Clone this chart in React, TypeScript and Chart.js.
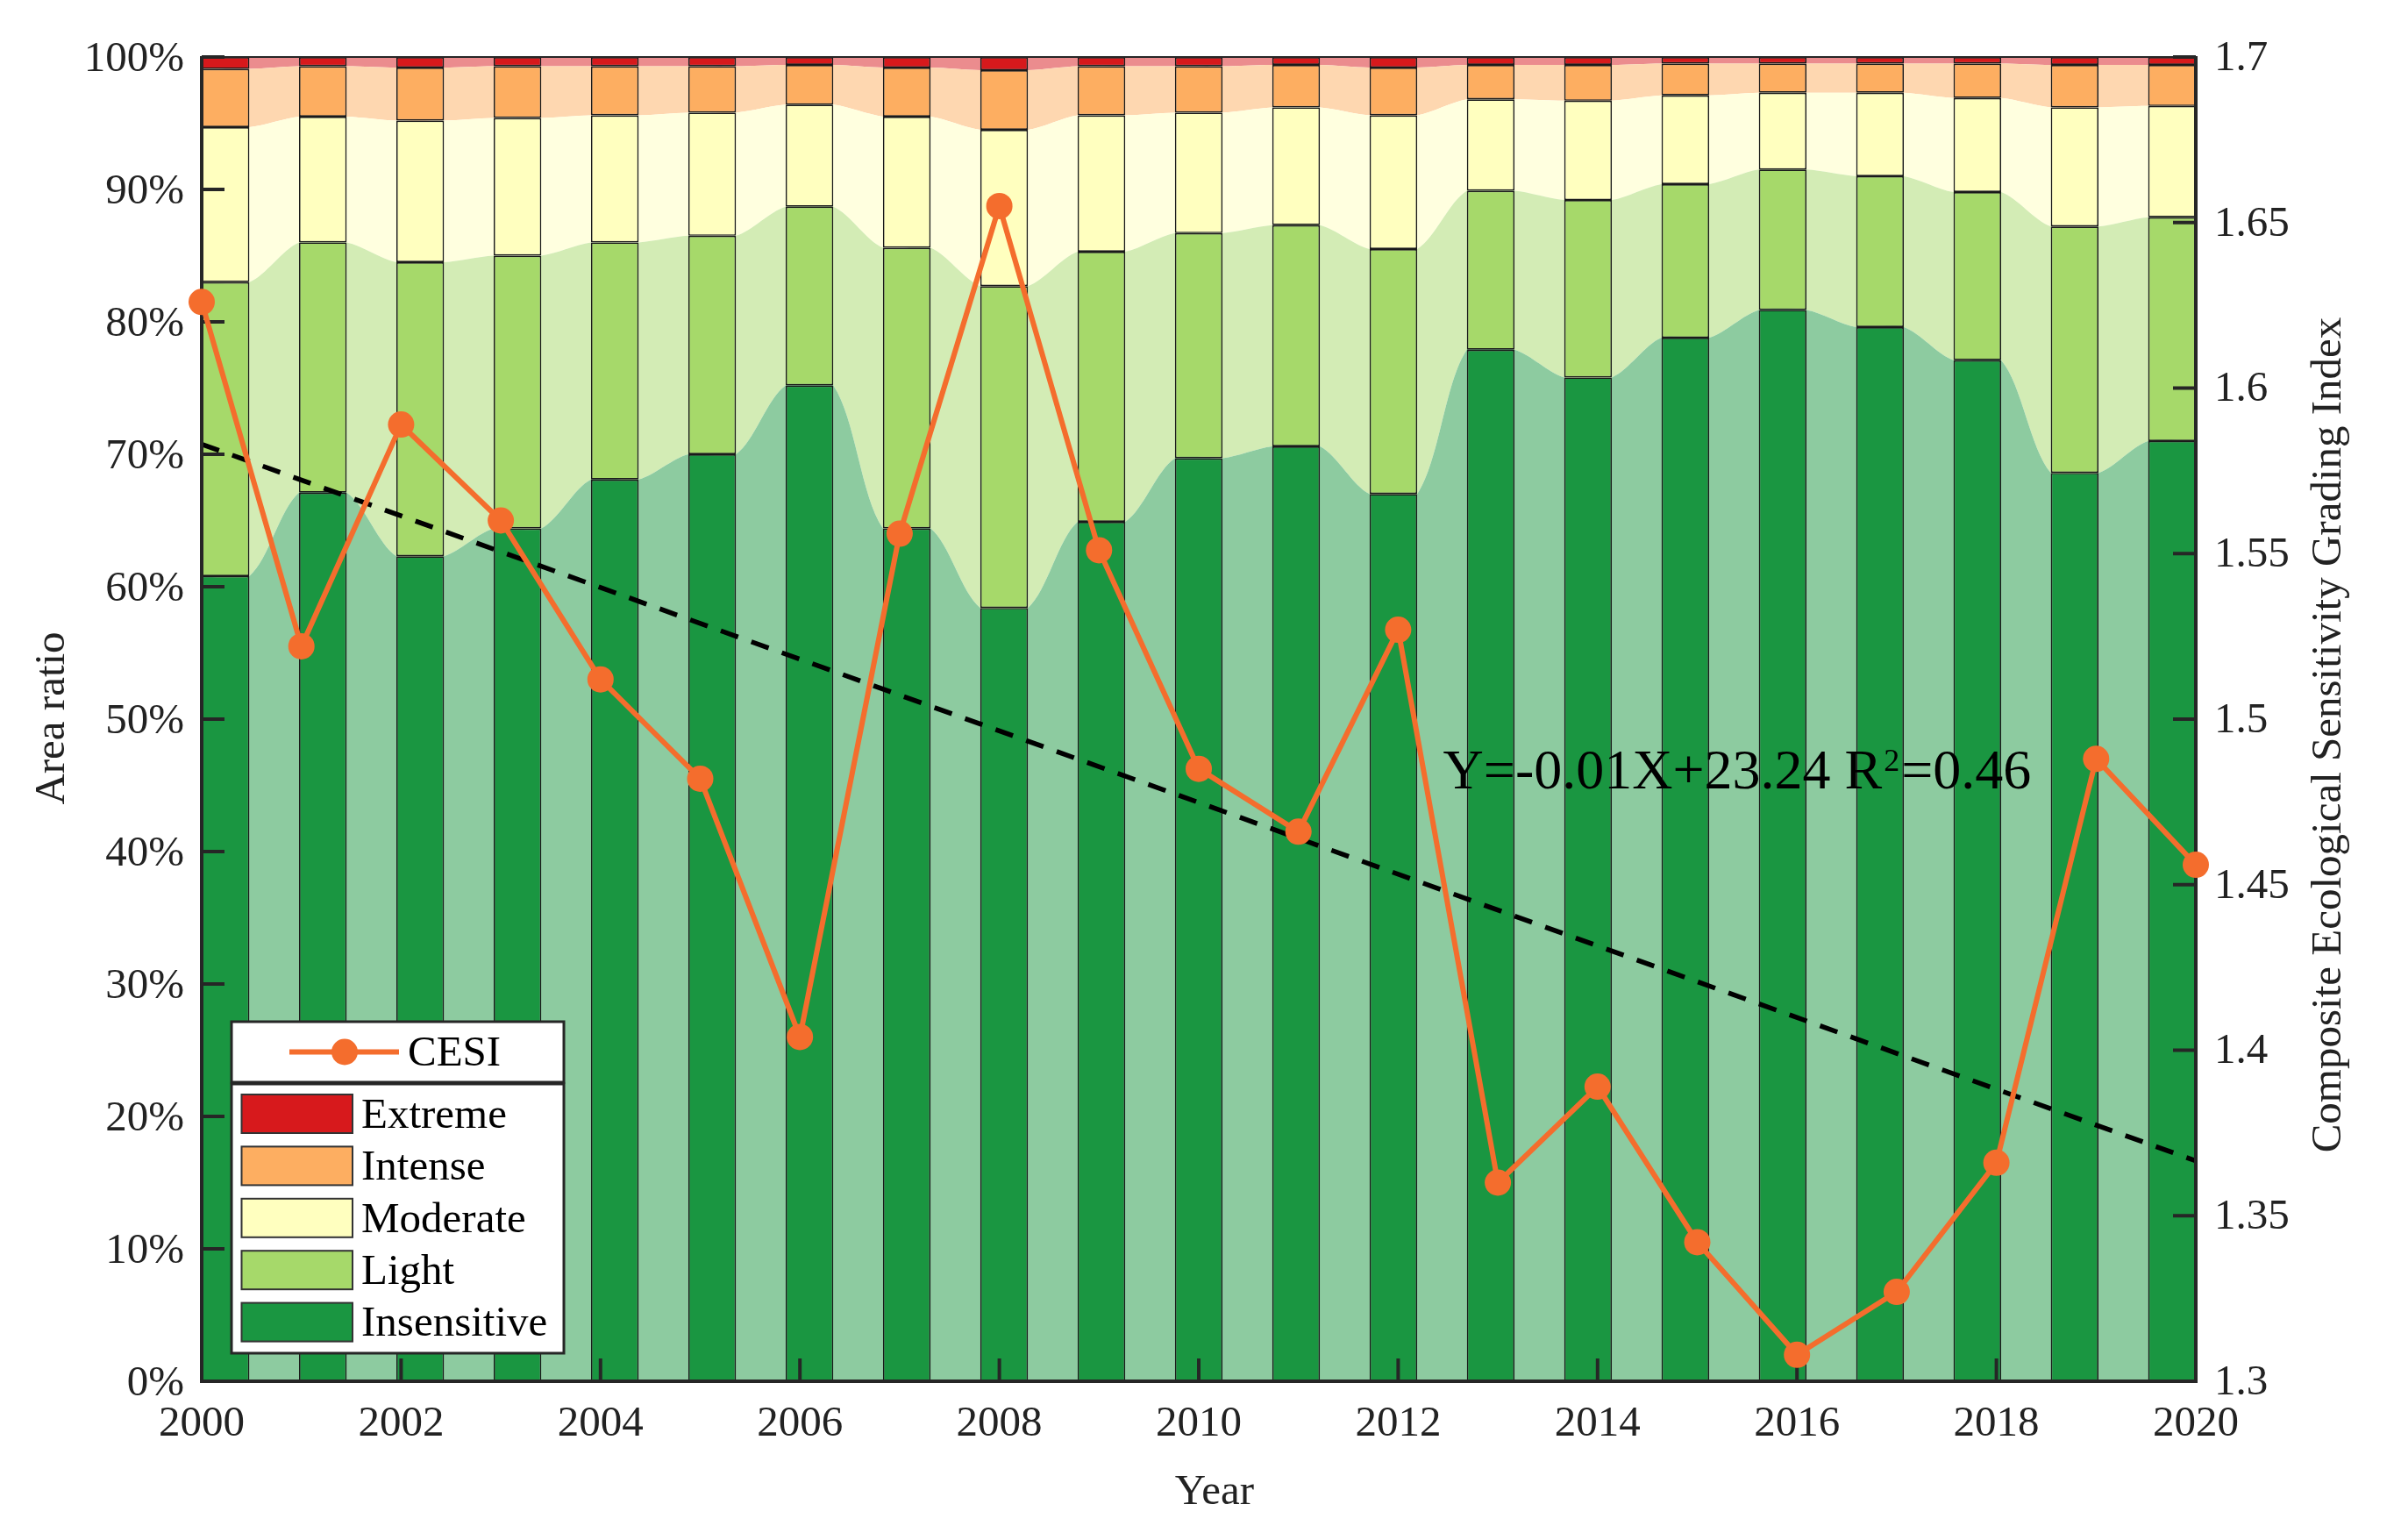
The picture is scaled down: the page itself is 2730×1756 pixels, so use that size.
import React, { useEffect, useRef } from "react";
import { Chart, registerables } from "chart.js";

Chart.register(...registerables);

// ---------------- data ----------------
const years = [2000, 2001, 2002, 2003, 2004, 2005, 2006, 2007, 2008, 2009, 2010, 2011, 2012, 2013, 2014, 2015, 2016, 2017, 2018, 2019, 2020];
const insensitive = [60.8, 67.1, 62.3, 64.4, 68.1, 70.0, 75.2, 64.4, 58.4, 64.9, 69.7, 70.6, 67.0, 77.9, 75.8, 78.8, 80.9, 79.6, 77.1, 68.6, 71.0];
const light = [22.2, 18.9, 22.2, 20.6, 17.9, 16.5, 13.5, 21.2, 24.3, 20.4, 17.0, 16.7, 18.5, 12.0, 13.4, 11.6, 10.6, 11.4, 12.7, 18.6, 16.9];
const moderate = [11.7, 9.5, 10.7, 10.4, 9.6, 9.3, 7.7, 9.9, 11.8, 10.3, 9.1, 8.9, 10.1, 6.9, 7.5, 6.7, 5.8, 6.3, 7.1, 9.0, 8.4];
const intense = [4.4, 3.8, 4.0, 3.9, 3.7, 3.5, 3.0, 3.7, 4.5, 3.7, 3.5, 3.2, 3.6, 2.6, 2.7, 2.4, 2.2, 2.2, 2.6, 3.2, 3.1];
const extreme = [0.9, 0.7, 0.8, 0.7, 0.7, 0.7, 0.6, 0.8, 1.0, 0.7, 0.7, 0.6, 0.8, 0.6, 0.6, 0.5, 0.5, 0.5, 0.5, 0.6, 0.6];
const cesi = [1.626, 1.522, 1.589, 1.560, 1.512, 1.482, 1.404, 1.556, 1.655, 1.551, 1.485, 1.466, 1.527, 1.360, 1.389, 1.342, 1.308, 1.327, 1.366, 1.488, 1.456];

const categoryNames = ["Insensitive", "Light", "Moderate", "Intense", "Extreme"];
const xTickYears = [2000, 2002, 2004, 2006, 2008, 2010, 2012, 2014, 2016, 2018, 2020];
const leftTicks = [0, 10, 20, 30, 40, 50, 60, 70, 80, 90, 100];
const rightTicks = [1.3, 1.35, 1.4, 1.45, 1.5, 1.55, 1.6, 1.65, 1.7];
const equationText = "Y=-0.01X+23.24 R";
const equationSup = "2";
const equationTail = "=0.46";

// ---------------- styles ----------------
const W = 2730;
const H = 1756;
const PLOT = { left: 230, right: 2504, top: 65, bottom: 1575 };
const FONT = '"Liberation Serif", "Times New Roman", serif';
const TEXT = "#222222";
const AXIS = "#262626";
const ORANGE = "#F46D2D";
const barColors = ["#1A9641", "#A6D96A", "#FFFFBF", "#FDAE61", "#D7191C"];
const areaColors = ["#8DCBA0", "#D3ECB5", "#FFFFDF", "#FED7B0", "#EB8C8E"];
const HALF = 0.245; // half bar width in bar-index units
const ANNOT = { x: 2012.45, y: 1.479 };

const series = [insensitive, light, moderate, intense, extreme];

function linreg(xs: number[], ys: number[]) {
  const n = xs.length;
  const mx = xs.reduce((s, v) => s + v, 0) / n;
  const my = ys.reduce((s, v) => s + v, 0) / n;
  let sxy = 0;
  let sxx = 0;
  for (let i = 0; i < n; i++) {
    sxy += (xs[i] - mx) * (ys[i] - my);
    sxx += (xs[i] - mx) * (xs[i] - mx);
  }
  const a = sxy / sxx;
  return { a, b: my - a * mx };
}

const decorPlugin = {
  id: "decor",
  afterDatasetDraw(chart: any, args: any) {
    if (args.index !== chart.data.datasets.length - 2) return;
    const ctx = chart.ctx;
    const ca = chart.chartArea;
    ctx.save();
    ctx.strokeStyle = AXIS;
    ctx.lineCap = "butt";
    ctx.lineWidth = 4;
    const tl = 26;
    for (const v of leftTicks) {
      const py = chart.scales.y.getPixelForValue(v);
      ctx.beginPath();
      ctx.moveTo(ca.left, py);
      ctx.lineTo(ca.left + tl, py);
      ctx.stroke();
    }
    for (const v of rightTicks) {
      const py = chart.scales.y2.getPixelForValue(v);
      ctx.beginPath();
      ctx.moveTo(ca.right, py);
      ctx.lineTo(ca.right - tl, py);
      ctx.stroke();
    }
    for (const v of xTickYears) {
      const px = chart.scales.x.getPixelForValue(v);
      ctx.beginPath();
      ctx.moveTo(px, ca.bottom);
      ctx.lineTo(px, ca.bottom - tl);
      ctx.stroke();
    }
    ctx.lineWidth = 2;
    ctx.beginPath();
    ctx.moveTo(ca.left, ca.top);
    ctx.lineTo(ca.right, ca.top);
    ctx.stroke();
    ctx.lineWidth = 4;
    ctx.beginPath();
    ctx.moveTo(ca.left, ca.top - 1);
    ctx.lineTo(ca.left, ca.bottom + 2);
    ctx.moveTo(ca.left - 2, ca.bottom);
    ctx.lineTo(ca.right + 2, ca.bottom);
    ctx.moveTo(ca.right, ca.bottom + 2);
    ctx.lineTo(ca.right, ca.top - 1);
    ctx.stroke();
    ctx.restore();
  },
  afterDraw(chart: any) {
    const ctx = chart.ctx;
    const ca = chart.chartArea;
    const cx = (ca.left + ca.right) / 2;
    const cy = (ca.top + ca.bottom) / 2;
    ctx.save();
    ctx.fillStyle = TEXT;
    ctx.textBaseline = "alphabetic";
    ctx.textAlign = "center";
    ctx.font = `49px ${FONT}`;
    ctx.fillText("Year", cx + 18, 1715);
    ctx.save();
    ctx.translate(73, cy - 1);
    ctx.rotate(-Math.PI / 2);
    ctx.fillText("Area ratio", 0, 0);
    ctx.restore();
    ctx.save();
    ctx.translate(ca.right + 165, cy + 18);
    ctx.rotate(-Math.PI / 2);
    ctx.fillText("Composite Ecological Sensitivity Grading Index", 0, 0);
    ctx.restore();

    // regression equation
    ctx.fillStyle = "#000";
    ctx.textAlign = "left";
    const ex = chart.scales.x.getPixelForValue(ANNOT.x);
    const ey = chart.scales.y2.getPixelForValue(ANNOT.y);
    ctx.font = `64px ${FONT}`;
    ctx.fillText(equationText, ex, ey);
    let w = ctx.measureText(equationText).width;
    ctx.font = `36px ${FONT}`;
    ctx.fillText(equationSup, ex + w + 2, ey - 20);
    w += ctx.measureText(equationSup).width + 4;
    ctx.font = `64px ${FONT}`;
    ctx.fillText(equationTail, ex + w, ey);

    // legend
    const lx = ca.left + 34;
    const lw = 379;
    const b2bottom = ca.bottom - 32;
    const b2top = b2bottom - 307;
    const b1bottom = b2top - 2;
    const b1top = b1bottom - 69;
    ctx.fillStyle = "#ffffff";
    ctx.fillRect(lx, b1top, lw, b1bottom - b1top);
    ctx.fillRect(lx, b2top, lw, b2bottom - b2top);
    ctx.strokeStyle = AXIS;
    ctx.lineWidth = 3;
    ctx.strokeRect(lx, b1top, lw, b1bottom - b1top);
    ctx.strokeRect(lx, b2top, lw, b2bottom - b2top);
    const c1y = (b1top + b1bottom) / 2;
    ctx.strokeStyle = ORANGE;
    ctx.lineWidth = 6;
    ctx.beginPath();
    ctx.moveTo(lx + 66, c1y);
    ctx.lineTo(lx + 191, c1y);
    ctx.stroke();
    ctx.fillStyle = ORANGE;
    ctx.beginPath();
    ctx.arc(lx + 129, c1y, 15, 0, Math.PI * 2);
    ctx.fill();
    ctx.fillStyle = "#000";
    ctx.font = `49px ${FONT}`;
    ctx.textBaseline = "middle";
    ctx.fillText("CESI", lx + 201, c1y + 3);
    for (let r = 0; r < 5; r++) {
      const k = 4 - r;
      const top = b2top + 12 + r * 59.4;
      ctx.fillStyle = barColors[k];
      ctx.fillRect(lx + 11.5, top, 126.5, 44);
      ctx.strokeStyle = "#333333";
      ctx.lineWidth = 2;
      ctx.strokeRect(lx + 11.5, top, 126.5, 44);
      ctx.fillStyle = "#000";
      ctx.fillText(categoryNames[k], lx + 148, top + 22 + 3);
    }
    ctx.restore();
  },
};

function hiddenIndexAxis() {
  return {
    type: "linear",
    position: "bottom",
    display: true,
    offset: false,
    min: -HALF,
    max: years.length - 1 + HALF,
    grid: { display: false, drawTicks: false, offset: false },
    border: { display: false },
    ticks: { display: false },
    afterBuildTicks: (s: any) => {
      s.ticks = years.map((_, i) => ({ value: i }));
    },
    afterFit: (s: any) => {
      s.height = 0;
    },
  };
}

export default function App() {
  const canvasRef = useRef<HTMLCanvasElement | null>(null);

  useEffect(() => {
    const canvas = canvasRef.current;
    if (!canvas) return;

    const { a, b } = linreg(years, cesi);
    const x0 = years[0];
    const x1 = years[years.length - 1];

    const areaDatasets = series.map((vals, k) => ({
      type: "line" as const,
      label: categoryNames[k] + " area",
      data: vals.flatMap((v, i) => [
        { x: i - HALF, y: v },
        { x: i + HALF, y: v },
      ]),
      xAxisID: "xa",
      yAxisID: "y",
      stack: "area",
      fill: k === 0 ? "origin" : "-1",
      backgroundColor: areaColors[k],
      borderColor: "rgba(0,0,0,0)",
      borderWidth: 0,
      pointRadius: 0,
      tension: 0.3,
      order: 3,
    }));

    const barDatasets = series.map((vals, k) => ({
      type: "bar" as const,
      label: categoryNames[k],
      data: vals.map((v, i) => ({ x: i, y: v })),
      xAxisID: "xb",
      yAxisID: "y",
      stack: "bars",
      grouped: false,
      backgroundColor: barColors[k],
      borderColor: "#1a1a1a",
      borderWidth: 1.7,
      borderSkipped: false,
      categoryPercentage: 1,
      barPercentage: 2 * HALF,
      order: 2,
    }));

    const trendDataset = {
      type: "line" as const,
      label: "Trend",
      data: [
        { x: x0, y: a * x0 + b },
        { x: x1, y: a * x1 + b },
      ],
      xAxisID: "x",
      yAxisID: "y2",
      borderColor: "#000000",
      borderWidth: 5.5,
      borderDash: [21, 16],
      pointRadius: 0,
      fill: false,
      order: 1,
    };

    const cesiDataset = {
      type: "line" as const,
      label: "CESI",
      data: years.map((yr, i) => ({ x: yr, y: cesi[i] })),
      xAxisID: "x",
      yAxisID: "y2",
      borderColor: ORANGE,
      backgroundColor: ORANGE,
      borderWidth: 6,
      pointRadius: 15,
      pointBackgroundColor: ORANGE,
      pointBorderWidth: 0,
      tension: 0,
      fill: false,
      clip: false,
      order: 0,
    };

    const tickFont = { family: FONT, size: 49 };

    const chart = new Chart(canvas, {
      data: {
        datasets: [...areaDatasets, ...barDatasets, trendDataset, cesiDataset] as any,
      },
      options: {
        animation: false,
        responsive: false,
        devicePixelRatio: 1,
        layout: { padding: { top: PLOT.top, left: 0, right: 0, bottom: 0 } },
        plugins: {
          legend: { display: false },
          tooltip: { enabled: false },
        },
        scales: {
          x: {
            type: "linear",
            position: "bottom",
            min: 2000,
            max: 2020,
            offset: false,
            grid: { display: false, drawTicks: false, offset: false },
            border: { display: false },
            ticks: {
              font: tickFont,
              color: TEXT,
              padding: 20,
              maxRotation: 0,
              autoSkip: false,
              callback: (v: any) => String(v),
            },
            afterBuildTicks: (s: any) => {
              s.ticks = xTickYears.map((v) => ({ value: v }));
            },
            afterFit: (s: any) => {
              s.height = H - PLOT.bottom;
            },
          },
          xb: hiddenIndexAxis(),
          xa: hiddenIndexAxis(),
          y: {
            type: "linear",
            position: "left",
            stacked: true,
            min: 0,
            max: 100,
            grid: { display: false, drawTicks: false },
            border: { display: false },
            ticks: {
              font: tickFont,
              color: TEXT,
              padding: 20,
              labelOffset: 3,
              callback: (v: any) => `${v}%`,
            },
            afterBuildTicks: (s: any) => {
              s.ticks = leftTicks.map((v) => ({ value: v }));
            },
            afterFit: (s: any) => {
              s.width = PLOT.left;
            },
          },
          y2: {
            type: "linear",
            position: "right",
            stacked: false,
            min: 1.3,
            max: 1.7,
            grid: { display: false, drawTicks: false },
            border: { display: false },
            ticks: {
              font: tickFont,
              color: TEXT,
              padding: 21,
              labelOffset: 2,
              callback: (v: any) => String(Math.round(Number(v) * 100) / 100),
            },
            afterBuildTicks: (s: any) => {
              s.ticks = rightTicks.map((v) => ({ value: v }));
            },
            afterFit: (s: any) => {
              s.width = W - PLOT.right;
            },
          },
        },
      } as any,
      plugins: [decorPlugin],
    });

    return () => {
      chart.destroy();
    };
  }, []);

  return (
    <div
      style={{
        position: "absolute",
        left: 0,
        top: 0,
        width: W,
        height: H,
        background: "#ffffff",
        overflow: "hidden",
      }}
    >
      <canvas ref={canvasRef} width={W} height={H} style={{ width: W, height: H, display: "block" }} />
    </div>
  );
}
